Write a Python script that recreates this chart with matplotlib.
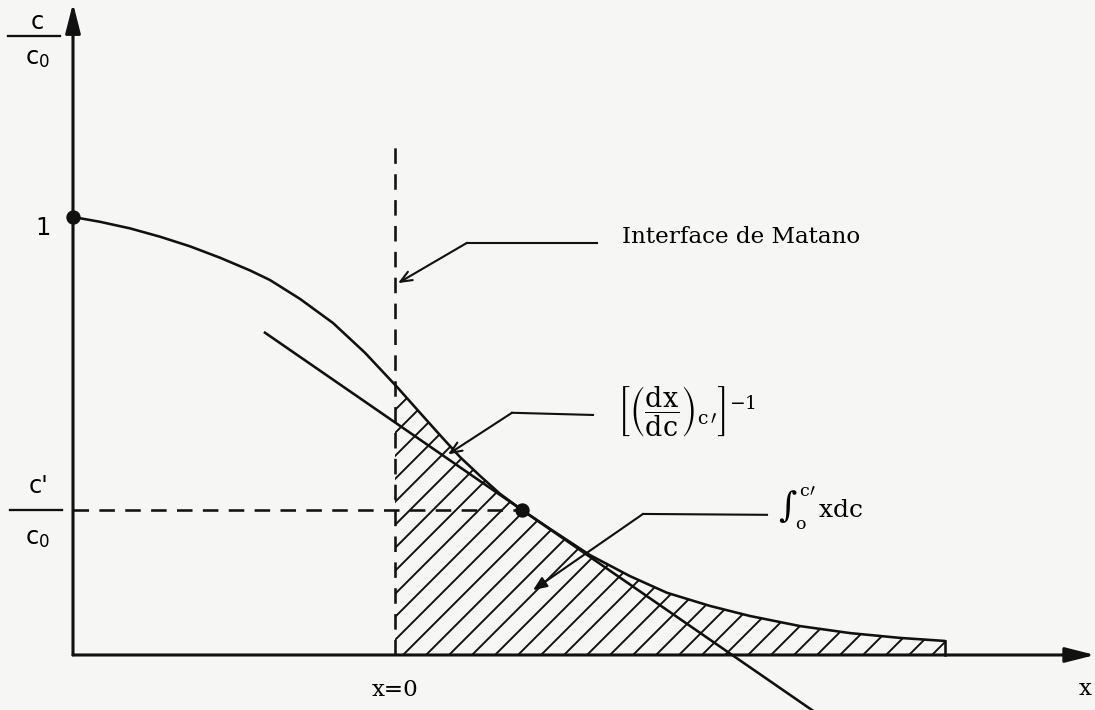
import matplotlib
matplotlib.use("Agg")
import matplotlib.pyplot as plt
import numpy as np

# concentration profile c/c0 against distance x (x = 0 at the Matano interface)
x_profile = [-3.22, -2.95, -2.65, -2.35, -2.05, -1.75, -1.45, -1.25, -0.95,
             -0.62, -0.30, 0.02, 0.25, 0.45, 0.65, 0.85, 1.05, 1.27, 1.55,
             1.95, 2.35, 2.72, 3.15, 3.55, 4.05, 4.55, 5.05, 5.50]
c_profile = [1.000, 0.989, 0.974, 0.955, 0.933, 0.907, 0.878, 0.856, 0.813,
             0.758, 0.690, 0.612, 0.553, 0.502, 0.452, 0.409, 0.368, 0.331,
             0.288, 0.228, 0.180, 0.142, 0.112, 0.089, 0.066, 0.050, 0.039,
             0.032]

# point c' where the tangent touches the profile
x_cp = 1.27
c_cp = 0.331
tangent_slope = -0.1575
tangent_x = [-1.30, 4.17]

x_origin = -3.22
interface_top = 1.164
y_axis_top = 1.488
x_axis_end = 7.0

BG = "#f6f6f4"
INK = "#111111"
LW = 1.35

plt.rcParams["font.family"] = ["DejaVu Serif"]
plt.rcParams["mathtext.fontset"] = "dejavuserif"
plt.rcParams["hatch.color"] = INK
plt.rcParams["hatch.linewidth"] = 1.0

fig = plt.figure(figsize=(1095 / 138, 710 / 138), dpi=138, facecolor=BG)
ax = fig.add_axes([0, 0, 1, 1])
ax.set_facecolor(BG)
ax.set_xlim(-3.95, 7.0)
ax.set_ylim(-0.1256, 1.4954)
ax.axis("off")

xs = np.array(x_profile)
cs = np.array(c_profile)

# hatched area between x=0 and the end of the profile
right = xs >= 0
xh = np.concatenate([[0.0], xs[right]])
ch = np.concatenate([[np.interp(0.0, xs, cs)], cs[right]])
ax.fill_between(xh, 0, ch, facecolor="none", edgecolor=INK, hatch="//",
                linewidth=0)
ax.plot([xs[-1], xs[-1]], [0, cs[-1]], color=INK, lw=LW)

# profile
ax.plot(xs, cs, color=INK, lw=LW, solid_joinstyle="round",
        solid_capstyle="round")

# tangent at c'
tx = np.array(tangent_x)
ax.plot(tx, c_cp + tangent_slope * (tx - x_cp), color=INK, lw=LW)

# Matano interface and c' level
ax.plot([0, 0], [0, interface_top], color=INK, lw=LW, dashes=(6, 4))
ax.plot([x_origin, x_cp], [c_cp, c_cp], color=INK, lw=LW, dashes=(6, 4))

ax.plot([x_origin, x_cp], [1.0, c_cp], "o", color=INK, ms=6.5, zorder=5)

# axes with arrow heads
axis_arrow = dict(arrowstyle="-|>,head_length=1.3,head_width=0.33",
                  color=INK, lw=1.6, shrinkA=0, shrinkB=0)
ax.annotate("", xy=(x_origin, y_axis_top), xytext=(x_origin, 0),
            arrowprops=axis_arrow)
ax.annotate("", xy=(x_axis_end, 0), xytext=(x_origin, 0),
            arrowprops=axis_arrow)

fs = 12
sans = dict(family="DejaVu Sans", fontsize=12.5, ha="center", va="center")

# c/c0 axis label
ax.text(-3.58, 1.445, "c", **sans)
ax.plot([-3.87, -3.35], [1.413, 1.413], color=INK, lw=1.2)
ax.text(-3.58, 1.362, r"c$_\mathregular{0}$", **sans)
ax.text(-3.52, 0.975, "1", **sans)

# c'/c0 label
ax.text(-3.56, 0.386, "c'", **sans)
ax.plot([-3.85, -3.33], [c_cp, c_cp], color=INK, lw=1.2)
ax.text(-3.58, 0.267, r"c$_\mathregular{0}$", **sans)

ax.text(0, -0.08, "x=0", fontsize=fs, ha="center", va="center")
ax.text(6.90, -0.078, "x", fontsize=fs, ha="center", va="center")

lead = dict(arrowstyle="->,head_length=0.6,head_width=0.25", color=INK,
            lw=1.1, shrinkA=0, shrinkB=0)

# Matano interface label
ax.text(2.27, 0.954, "Interface de Matano", fontsize=fs, ha="left",
        va="center")
ax.plot([2.02, 0.72], [0.941, 0.941], color=INK, lw=1.1)
ax.annotate("", xy=(0.03, 0.849), xytext=(0.72, 0.941), arrowprops=lead)

# slope label
ax.text(2.22, 0.555,
        r"$\left[\left(\dfrac{\mathrm{dx}}{\mathrm{dc}}\right)_{\mathrm{c}\,\prime}\right]^{-1}$",
        fontsize=14, ha="left", va="center")
ax.plot([1.98, 1.17], [0.548, 0.553], color=INK, lw=1.1)
ax.annotate("", xy=(0.53, 0.458), xytext=(1.17, 0.553), arrowprops=lead)

# integral label
ax.text(3.83, 0.335, r"$\int_{\mathrm{o}}^{\mathrm{c}\prime}\,\mathrm{xdc}$",
        fontsize=fs + 1, ha="left", va="center")
ax.plot([3.72, 2.48], [0.320, 0.322], color=INK, lw=1.1)
ax.annotate("", xy=(1.38, 0.148), xytext=(2.48, 0.322),
            arrowprops=dict(lead, arrowstyle="-|>,head_length=0.6,head_width=0.25"))

fig.savefig("out.png", dpi=138, facecolor=BG)
